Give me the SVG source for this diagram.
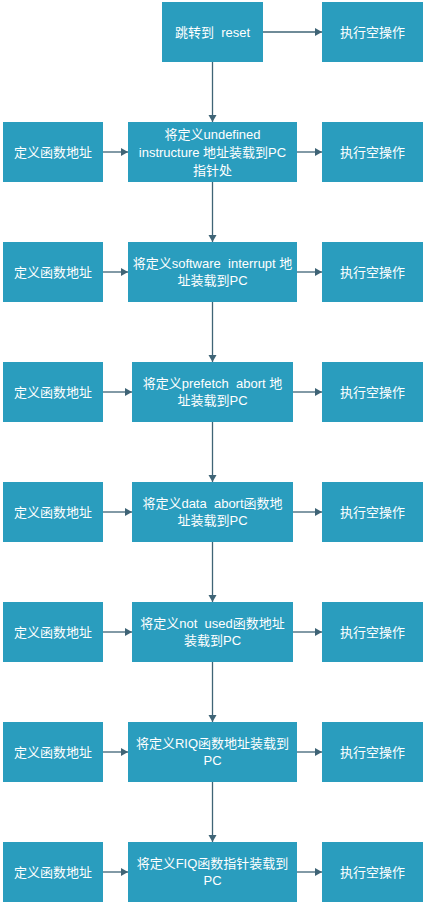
<svg xmlns="http://www.w3.org/2000/svg" width="425" height="904" viewBox="0 0 425 904">
<style>
.box{fill:#2a9dbe;}
.t{font-family:"Liberation Sans","Noto Sans CJK SC",sans-serif;font-size:13px;fill:#ffffff;text-anchor:middle;white-space:pre;}
.c{stroke:#3f6476;stroke-width:1.3;fill:none;marker-end:url(#ah);}
</style>
<defs>
<marker id="ah" markerUnits="userSpaceOnUse" markerWidth="10" markerHeight="10" refX="7" refY="4" orient="auto">
<path d="M0,0 L7,4 L0,8 Z" fill="#3f6476"/>
</marker>
</defs>
<rect width="425" height="904" fill="#ffffff"/>
<g id="connectors">
<line class="c" x1="263" y1="32" x2="322" y2="32"/>
<line class="c" x1="212.5" y1="62" x2="212.5" y2="122"/>
<line class="c" x1="103" y1="152" x2="128" y2="152"/>
<line class="c" x1="297" y1="152" x2="322" y2="152"/>
<line class="c" x1="212.5" y1="182" x2="212.5" y2="242"/>
<line class="c" x1="103" y1="272" x2="128" y2="272"/>
<line class="c" x1="297" y1="272" x2="322" y2="272"/>
<line class="c" x1="212.5" y1="302" x2="212.5" y2="362"/>
<line class="c" x1="103" y1="392" x2="132" y2="392"/>
<line class="c" x1="293" y1="392" x2="322" y2="392"/>
<line class="c" x1="212.5" y1="422" x2="212.5" y2="482"/>
<line class="c" x1="103" y1="512" x2="132" y2="512"/>
<line class="c" x1="293" y1="512" x2="322" y2="512"/>
<line class="c" x1="212.5" y1="542" x2="212.5" y2="602"/>
<line class="c" x1="103" y1="632" x2="132" y2="632"/>
<line class="c" x1="293" y1="632" x2="322" y2="632"/>
<line class="c" x1="212.5" y1="662" x2="212.5" y2="722"/>
<line class="c" x1="103" y1="752" x2="128" y2="752"/>
<line class="c" x1="297" y1="752" x2="322" y2="752"/>
<line class="c" x1="212.5" y1="782" x2="212.5" y2="842"/>
<line class="c" x1="103" y1="872" x2="128" y2="872"/>
<line class="c" x1="297" y1="872" x2="322" y2="872"/>
</g>
<g id="reset"><rect class="box" x="162" y="2" width="101" height="60"/><text class="t" x="212.5" y="36.5">跳转到  reset</text></g>
<g id="nop1"><rect class="box" x="322" y="2" width="101" height="60"/><text class="t" x="372.5" y="36.5">执行空操作</text></g>

<g id="def2"><rect class="box" x="3" y="122" width="100" height="60"/><text class="t" x="53" y="156.5">定义函数地址</text></g>
<g id="undef"><rect class="box" x="128" y="122" width="169" height="60"/><text class="t" x="212.5" y="138.5">将定义undefined</text><text class="t" x="212.5" y="156.5">instructure 地址装载到PC</text><text class="t" x="212.5" y="174.5">指针处</text></g>
<g id="nop2"><rect class="box" x="322" y="122" width="101" height="60"/><text class="t" x="372.5" y="156.5">执行空操作</text></g>

<g id="def3"><rect class="box" x="3" y="242" width="100" height="60"/><text class="t" x="53" y="276.5">定义函数地址</text></g>
<g id="swi"><rect class="box" x="128" y="242" width="169" height="60"/><text class="t" x="212.5" y="268">将定义software  interrupt 地</text><text class="t" x="212.5" y="285">址装载到PC</text></g>
<g id="nop3"><rect class="box" x="322" y="242" width="101" height="60"/><text class="t" x="372.5" y="276.5">执行空操作</text></g>

<g id="def4"><rect class="box" x="3" y="362" width="100" height="60"/><text class="t" x="53" y="396.5">定义函数地址</text></g>
<g id="pabt"><rect class="box" x="132" y="362" width="161" height="60"/><text class="t" x="212.5" y="388">将定义prefetch  abort 地</text><text class="t" x="212.5" y="405">址装载到PC</text></g>
<g id="nop4"><rect class="box" x="322" y="362" width="101" height="60"/><text class="t" x="372.5" y="396.5">执行空操作</text></g>

<g id="def5"><rect class="box" x="3" y="482" width="100" height="60"/><text class="t" x="53" y="516.5">定义函数地址</text></g>
<g id="dabt"><rect class="box" x="132" y="482" width="161" height="60"/><text class="t" x="212.5" y="508">将定义data  abort函数地</text><text class="t" x="212.5" y="525">址装载到PC</text></g>
<g id="nop5"><rect class="box" x="322" y="482" width="101" height="60"/><text class="t" x="372.5" y="516.5">执行空操作</text></g>

<g id="def6"><rect class="box" x="3" y="602" width="100" height="60"/><text class="t" x="53" y="636.5">定义函数地址</text></g>
<g id="notused"><rect class="box" x="132" y="602" width="161" height="60"/><text class="t" x="212.5" y="628">将定义not  used函数地址</text><text class="t" x="212.5" y="645">装载到PC</text></g>
<g id="nop6"><rect class="box" x="322" y="602" width="101" height="60"/><text class="t" x="372.5" y="636.5">执行空操作</text></g>

<g id="def7"><rect class="box" x="3" y="722" width="100" height="60"/><text class="t" x="53" y="756.5">定义函数地址</text></g>
<g id="riq"><rect class="box" x="128" y="722" width="169" height="60"/><text class="t" x="212.5" y="748">将定义RIQ函数地址装载到</text><text class="t" x="212.5" y="765">PC</text></g>
<g id="nop7"><rect class="box" x="322" y="722" width="101" height="60"/><text class="t" x="372.5" y="756.5">执行空操作</text></g>

<g id="def8"><rect class="box" x="3" y="842" width="100" height="60"/><text class="t" x="53" y="876.5">定义函数地址</text></g>
<g id="fiq"><rect class="box" x="128" y="842" width="169" height="60"/><text class="t" x="212.5" y="868">将定义FIQ函数指针装载到</text><text class="t" x="212.5" y="885">PC</text></g>
<g id="nop8"><rect class="box" x="322" y="842" width="101" height="60"/><text class="t" x="372.5" y="876.5">执行空操作</text></g>
</svg>
